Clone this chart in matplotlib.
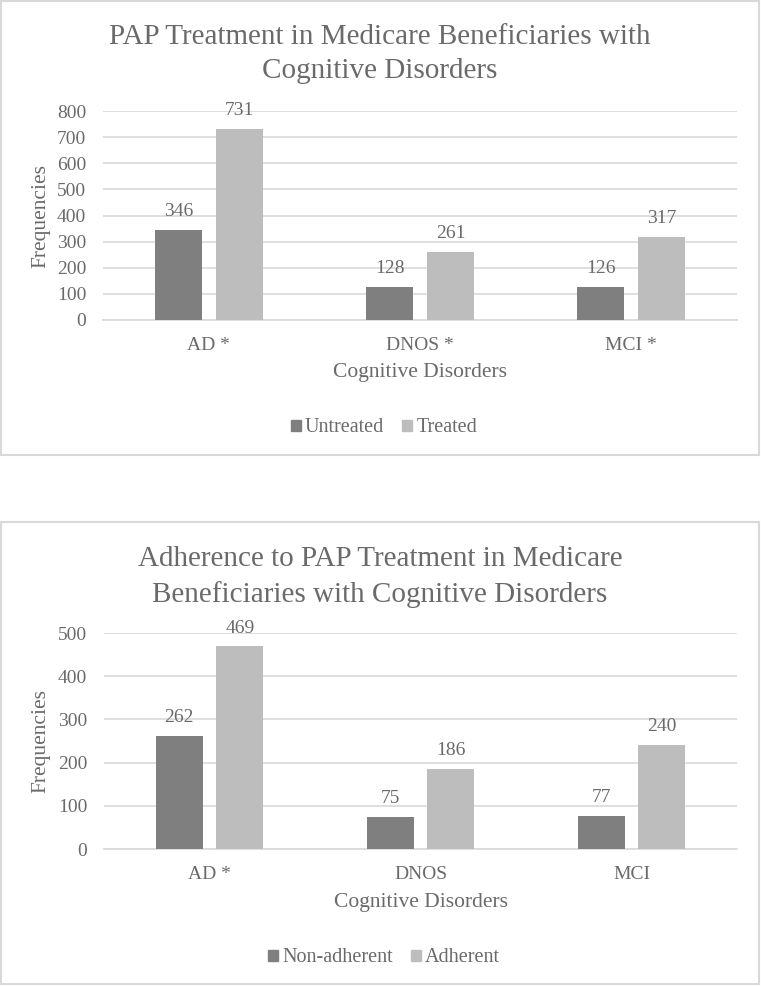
import numpy as np
import matplotlib
matplotlib.use("Agg")
import matplotlib.pyplot as plt
from matplotlib.patches import Rectangle, Patch

plt.rcParams['font.family'] = ['Liberation Serif', 'DejaVu Serif']

# data
categories_top = ['AD *', 'DNOS *', 'MCI *']
untreated = [346, 128, 126]
treated = [731, 261, 317]

categories_bot = ['AD *', 'DNOS', 'MCI']
non_adherent = [262, 75, 77]
adherent = [469, 186, 240]

TXT = '#6a6a6a'
DARK = '#7f7f7f'
LIGHT = '#bdbdbd'
GRID = '#d9d9d9'

W, H = 761, 986
fig = plt.figure(figsize=(W / 100, H / 100), dpi=100)
fig.patch.set_facecolor('white')


def fx(px):
    return px / W


def fy(py):
    return 1 - py / H


# chart boxes
for y0, y1 in [(1, 455), (522, 984)]:
    fig.add_artist(Rectangle((fx(1.5), fy(y1)), fx(757.5), (y1 - y0) / H,
                             transform=fig.transFigure, fill=False,
                             edgecolor=GRID, linewidth=1.5))


def draw(ax_box, cats, s1, s2, ymax, ystep, title, title_y, xlab_y, leg_y, names):
    left, top, right, bottom = ax_box
    ax = fig.add_axes([fx(left), fy(bottom), fx(right - left), (bottom - top) / H])
    x = np.arange(len(cats))
    w = 0.222
    off = 0.144
    b1 = ax.bar(x - off, s1, w, color=DARK, zorder=3)
    b2 = ax.bar(x + off, s2, w, color=LIGHT, zorder=3)
    for bars, vals in [(b1, s1), (b2, s2)]:
        for b, v in zip(bars, vals):
            ax.annotate(str(v), (b.get_x() + b.get_width() / 2, v),
                        xytext=(0, 10), textcoords='offset points',
                        ha='center', va='baseline', fontsize=14, color=TXT)
    ax.set_xlim(-0.5, len(cats) - 0.5)
    ax.set_ylim(0, ymax)
    ax.set_yticks(np.arange(0, ymax + 1, ystep))
    ax.set_xticks(x)
    ax.set_xticklabels(cats)
    ax.grid(axis='y', color=GRID, linewidth=1.2, zorder=0)
    for s in ['top', 'right', 'left']:
        ax.spines[s].set_visible(False)
    ax.spines['bottom'].set_color(GRID)
    ax.spines['bottom'].set_linewidth(1.2)
    ax.tick_params(axis='both', length=0, labelsize=14, labelcolor=TXT)
    ax.tick_params(axis='y', pad=12)
    ax.tick_params(axis='x', pad=12)
    ax.set_facecolor('none')
    ax.set_ylabel('Frequencies', fontsize=15.5, color=TXT, va='center')
    ax.yaxis.set_label_coords((41 - left) / (right - left), 0.5)
    fig.text(fx((left + right) / 2), fy(xlab_y), 'Cognitive Disorders',
             ha='center', va='center', fontsize=15.5, color=TXT)
    fig.text(fx(380), fy(title_y), title, ha='center', va='center',
             fontsize=21, color=TXT, linespacing=1.4)
    handles = [Patch(color=DARK, label=names[0]), Patch(color=LIGHT, label=names[1])]
    fig.legend(handles=handles, loc='center', bbox_to_anchor=(fx(384), fy(leg_y)),
               ncol=2, frameon=False, fontsize=14.5, labelcolor=TXT,
               handlelength=0.5, handleheight=0.5, handletextpad=0.2,
               columnspacing=0.9)


draw((103, 111, 737, 320), categories_top, untreated, treated, 800, 100,
     'PAP Treatment in Medicare Beneficiaries with\nCognitive Disorders',
     54, 373, 428, ['Untreated', 'Treated'])
draw((104, 633, 737, 849), categories_bot, non_adherent, adherent, 500, 100,
     'Adherence to PAP Treatment in Medicare\nBeneficiaries with Cognitive Disorders',
     577, 903, 958, ['Non-adherent', 'Adherent'])

fig.savefig('out.png', dpi=100)
